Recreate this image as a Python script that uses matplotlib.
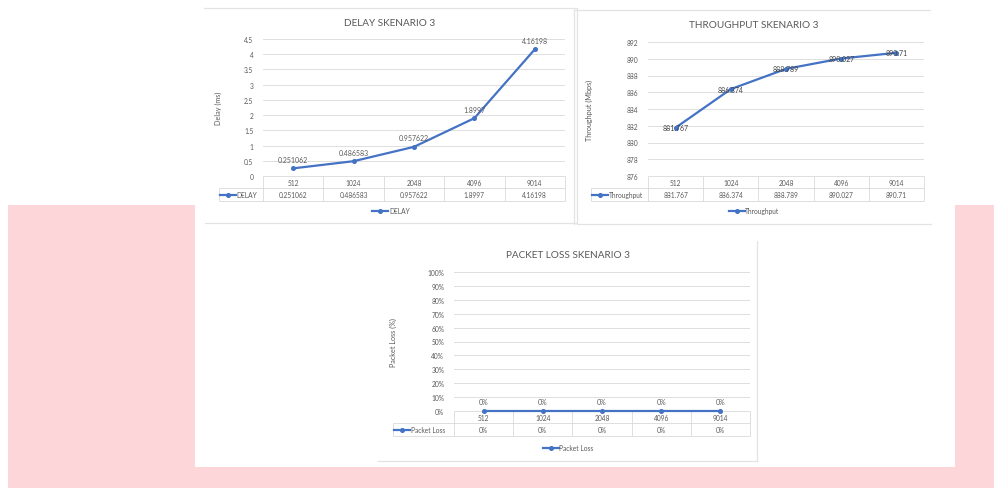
import matplotlib
matplotlib.use("Agg")
import matplotlib.pyplot as plt
import matplotlib.ticker as ticker
from matplotlib.patches import Rectangle
from matplotlib.lines import Line2D

# Data
categories = ["512", "1024", "2048", "4096", "9014"]
delay_ms = [0.251062, 0.486583, 0.957622, 1.8997, 4.16198]
throughput_mbps = [881.767, 886.374, 888.789, 890.027, 890.71]
packet_loss = [0.0, 0.0, 0.0, 0.0, 0.0]

BLUE = "#4472C4"
TEXT = "#595959"
GRID = "#D9D9D9"
PINK = "#FDD6D9"
FONT = "Lato"

W, H = 994, 489
plt.rcParams["font.family"] = [FONT, "DejaVu Sans"]

fig = plt.figure(figsize=(W / 100, H / 100), dpi=100)
fig.patch.set_facecolor("white")


def px_rect(x0, y0, x1, y1):
    """Pixel box (top-left origin) -> figure fraction [l, b, w, h]."""
    return [x0 / W, 1 - y1 / H, (x1 - x0) / W, (y1 - y0) / H]


def fx(x):
    return x / W


def fy(y):
    return 1 - y / H


# Background: pink band with white panel over it
fig.patches.append(Rectangle((fx(8), 0), 1 - fx(8), fy(206), transform=fig.transFigure,
                             facecolor=PINK, edgecolor="none", zorder=-3))
fig.patches.append(Rectangle((fx(195), fy(468)), fx(955) - fx(195), fy(206) - fy(468),
                             transform=fig.transFigure, facecolor="white",
                             edgecolor="none", zorder=-2))


def frame_line(xs, ys):
    fig.add_artist(Line2D([fx(x) for x in xs], [fy(y) for y in ys],
                          transform=fig.transFigure, color="#E3E3E3", lw=0.9))


# panel borders
frame_line([204, 577, 577, 205], [9, 9, 224, 224])
frame_line([574, 574], [11, 225])
frame_line([574, 930], [11, 11])
frame_line([577, 931], [225, 225])
frame_line([757, 757], [242, 462])
frame_line([378, 757], [462, 462])


def draw_chart(box, values, ylim, ystep, yfmt, title, title_xy, ylabel, ylabel_x,
               series, key_left_px, legend_xy, label_fmt, label_pos):
    x0, y0, x1, y1 = box
    ax = fig.add_axes(px_rect(x0, y0, x1, y1))
    ax.set_facecolor("none")
    n = len(categories)
    xs = list(range(n))
    ax.plot(xs, values, color=BLUE, lw=1.6, marker="o", markersize=2.6,
            clip_on=False, zorder=3, label=series)
    ax.set_xlim(-0.5, n - 0.5)
    ax.set_ylim(*ylim)
    ax.yaxis.set_major_locator(ticker.MultipleLocator(ystep))
    ax.yaxis.set_major_formatter(yfmt)
    ax.set_xticks([])
    ax.grid(axis="y", color=GRID, lw=0.6)
    ax.set_axisbelow(True)
    for s in ax.spines.values():
        s.set_visible(False)
    ax.tick_params(axis="y", length=0, pad=7, labelsize=4.8, labelcolor=TEXT)

    # data labels
    for xi, v in zip(xs, values):
        if label_pos == "above":
            ax.annotate(label_fmt(v), (xi, v), xytext=(0, 4), textcoords="offset points",
                        ha="center", va="bottom", fontsize=5, color=TEXT, zorder=4)
        else:
            ax.annotate(label_fmt(v), (xi, v), ha="center", va="center",
                        fontsize=5, color="#404040", zorder=4)

    # y label
    ax.set_ylabel(ylabel, fontsize=5.2, color=TEXT)
    ax.yaxis.set_label_coords((ylabel_x - x0) / (x1 - x0), 0.5)

    # title
    fig.text(fx(title_xy[0]), fy(title_xy[1]), title, ha="center", va="center",
             fontsize=7.2, color=TEXT)

    # data table under the plot area
    h = 12.3 / (y1 - y0)
    kl = (key_left_px - x0) / (x1 - x0)
    tk = dict(transform=ax.transAxes, color=GRID, lw=0.6, clip_on=False)
    ax.hlines(0, 0, 1, **tk)
    ax.hlines([-h, -2 * h], kl, 1, **tk)
    ax.vlines([i / n for i in range(n + 1)], -2 * h, 0, **tk)
    ax.vlines(kl, -2 * h, -h, **tk)
    for i, (c, v) in enumerate(zip(categories, values)):
        cx = (i + 0.5) / n
        ax.text(cx, -0.5 * h, c, transform=ax.transAxes, ha="center", va="center",
                fontsize=4.8, color=TEXT)
        ax.text(cx, -1.5 * h, label_fmt(v), transform=ax.transAxes, ha="center",
                va="center", fontsize=4.8, color=TEXT)

    # bottom legend
    leg = ax.legend(loc="center", bbox_to_anchor=(fx(legend_xy[0]), fy(legend_xy[1])),
                    bbox_transform=fig.transFigure, frameon=False, fontsize=4.8,
                    handlelength=2.4, handletextpad=0.1, borderpad=0, borderaxespad=0,
                    labelcolor=TEXT)
    ax.add_artist(leg)
    # legend key inside the table
    ax.legend(loc="center left", bbox_to_anchor=(kl, -1.5 * h), bbox_transform=ax.transAxes,
              frameon=False, fontsize=4.8, handlelength=2.4, handletextpad=0.1,
              borderpad=0, borderaxespad=0.15, labelcolor=TEXT)
    return ax


draw_chart((263, 40, 565, 177), delay_ms, (0, 4.5), 0.5,
           ticker.FuncFormatter(lambda v, p: f"{v:g}"),
           "DELAY SKENARIO 3", (390, 23), "Delay (ms)", 222,
           "DELAY", 219, (391, 212), lambda v: f"{v:g}", "above")

draw_chart((648, 43, 924, 177), throughput_mbps, (876, 892), 2,
           ticker.FuncFormatter(lambda v, p: f"{v:g}"),
           "THROUGHPUT SKENARIO 3", (754, 25), "Throughput (Mbps)", 593,
           "Throughput", 591, (754, 212), lambda v: f"{v:g}", "center")

draw_chart((454, 273, 750, 412), packet_loss, (0, 1), 0.1,
           ticker.PercentFormatter(1.0, decimals=0),
           "PACKET LOSS SKENARIO 3", (568, 256), "Packet Loss (%)", 397,
           "Packet Loss", 393, (568, 449), lambda v: f"{v * 100:.0f}%", "above")

fig.savefig("out.png", dpi=100)
